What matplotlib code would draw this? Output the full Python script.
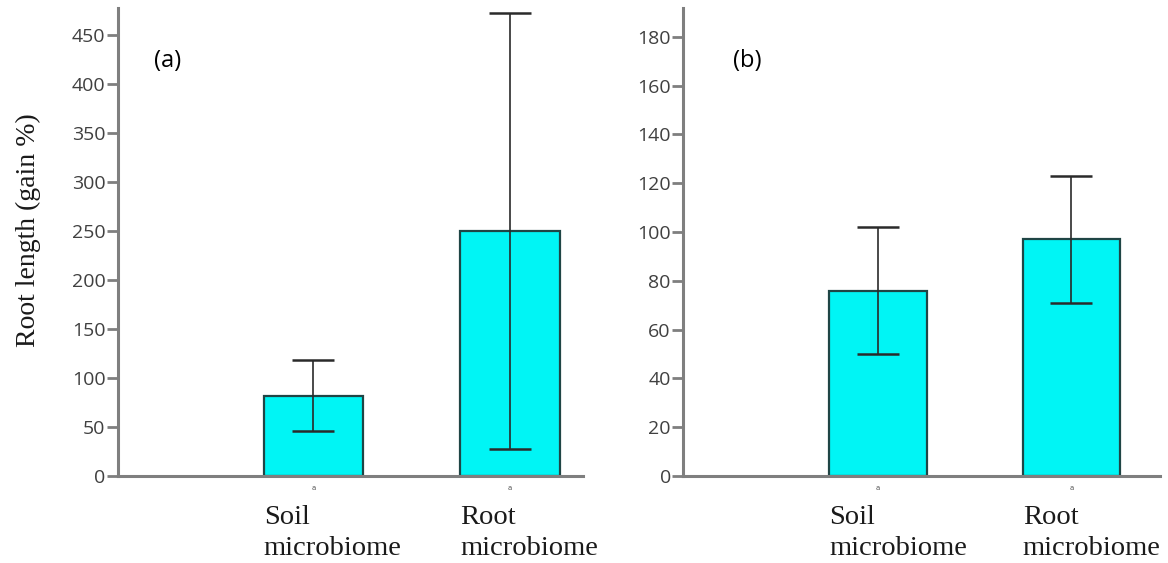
import numpy as np
import matplotlib.pyplot as plt

# Root length gain (%) per inoculum type, mean +/- error
categories = ["Soil\nmicrobiome", "Root\nmicrobiome"]
gain_a = [82, 250]
err_a = [36, 222]
gain_b = [76, 97]
err_b = [26, 26]
letters_a = ["a", "a"]
letters_b = ["a", "a"]

axis_grey = "#7f7f7f"
bar_fill = "#00f5f5"
bar_edge = "#1f4545"

fig = plt.figure(figsize=(11.68, 5.63), dpi=100)
ax_a = fig.add_axes([0.101, 0.1545, 0.398, 0.832])
ax_b = fig.add_axes([0.585, 0.1545, 0.408, 0.832])


def draw_panel(ax, vals, errs, letters, ylim, xlim, yticks, tag, tag_x):
    x = np.arange(len(vals))
    ax.bar(x, vals, width=0.505, color=bar_fill, edgecolor=bar_edge, linewidth=1.6, zorder=2)
    ax.errorbar(x, vals, yerr=errs, fmt="none", ecolor="#2a2a2a", elinewidth=1.2,
                capsize=14.8, capthick=1.8, zorder=3)
    ax.set_xlim(*xlim)
    ax.set_ylim(*ylim)
    ax.set_yticks(yticks)
    ax.set_xticks([])
    for s in ["top", "right"]:
        ax.spines[s].set_visible(False)
    for s in ["left", "bottom"]:
        ax.spines[s].set_color(axis_grey)
        ax.spines[s].set_linewidth(2.2)
    ax.tick_params(axis="y", direction="out", length=8, width=2, color=axis_grey,
                   labelsize=14, labelcolor="#404040", pad=1)
    for lab in ax.get_yticklabels():
        lab.set_family("Open Sans")
    # small significance letters under each bar
    for xi, lt in zip(x, letters):
        ax.text(xi, -ylim[1] * 0.02, lt, ha="center", va="top", fontsize=5,
                color="#555555", transform=ax.transData)
    # two-line category labels, left-aligned with the bar edge
    for xi, lab in zip(x, categories):
        ax.text(xi - 0.2525, -ylim[1] * 0.061, lab, ha="left", va="top",
                fontsize=20.5, family="Liberation Serif", linespacing=1.32,
                color="#1a1a1a", transform=ax.transData, clip_on=False)
    ax.text(tag_x, 0.885, tag, transform=ax.transAxes, fontsize=17,
            family="Open Sans", va="center", ha="left")


draw_panel(ax_a, gain_a, err_a, letters_a, (0, 478), (-0.995, 1.371),
           np.arange(0, 451, 50), "(a)", 0.077)
draw_panel(ax_b, gain_b, err_b, letters_b, (0, 192), (-1.008, 1.457),
           np.arange(0, 181, 20), "(b)", 0.105)

ax_a.set_ylabel("Root length (gain %)", family="Liberation Serif", fontsize=20,
                color="#1a1a1a")
ax_a.yaxis.set_label_coords(-0.165, 0.526)

fig.savefig("out.png", dpi=100)
